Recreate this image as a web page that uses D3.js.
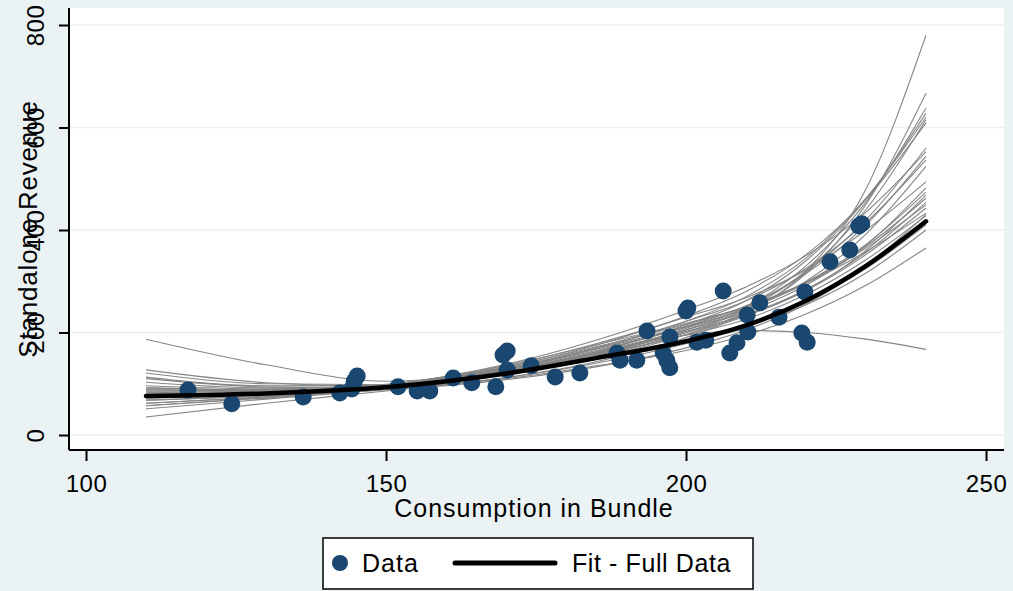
<!DOCTYPE html>
<html>
<head>
<meta charset="utf-8">
<script src="https://cdn.jsdelivr.net/npm/d3@7"></script>
<style>
    body { margin: 0; background: #eaf2f3; }
    text { font-family: "Liberation Sans Narrow", "Arial Narrow", "Liberation Sans", sans-serif; fill: #000; }
</style>
</head>
<body>
<div id="chart"></div>
<script>
// data
const dataX = [117.0, 124.3, 136.2, 142.3, 144.3, 144.7, 145.2, 152.0, 155.2, 157.3,
    161.2, 164.3, 168.3, 169.5, 170.2, 170.2, 174.2, 178.2, 182.3, 188.5,
    189.0, 191.8, 193.5, 196.2, 196.8, 197.3, 197.3, 200.3, 200.0, 201.8,
    203.3, 206.2, 207.3, 208.5, 210.3, 210.2, 212.3, 215.5, 219.3, 220.2,
    219.8, 224.0, 227.3, 229.3, 228.8];
const dataY = [88, 61, 74, 82, 90, 105, 115, 94, 86, 86,
    111, 102, 94, 156, 164, 127, 135, 113, 121, 160,
    146, 146, 203, 160, 146, 131, 191, 248, 242, 181,
    185, 281, 160, 180, 201, 234, 258, 230, 199, 181,
    279, 338, 361, 412, 408];

// x positions where the fitted curves were read
const fitX = [110, 130, 150, 170, 185, 200, 210, 220, 230, 240];
const fitFull = [76, 81, 93, 120, 150, 183, 214, 262, 330, 417];

// bootstrap fits (thin grey lines), one array per replication
const boot01 = [35, 62, 86, 112, 143, 190, 238, 320, 480, 780];
const boot02 = [51, 70, 90, 118, 150, 196, 240, 315, 450, 667];
const boot03 = [57, 72, 90, 120, 155, 205, 250, 330, 455, 638];
const boot04 = [57, 73, 92, 125, 162, 215, 262, 340, 460, 628];
const boot05 = [62, 75, 93, 128, 168, 222, 270, 345, 462, 620];
const boot06 = [62, 74, 90, 118, 152, 200, 245, 320, 440, 615];
const boot07 = [68, 78, 95, 132, 175, 232, 280, 352, 460, 609];
const boot08 = [68, 76, 92, 122, 158, 208, 250, 318, 420, 560];
const boot09 = [72, 80, 97, 138, 185, 244, 289, 350, 435, 553];
const boot10 = [72, 79, 94, 126, 163, 212, 252, 315, 410, 544];
const boot11 = [76, 81, 95, 130, 170, 222, 262, 325, 415, 537];
const boot12 = [76, 80, 93, 124, 160, 205, 244, 300, 392, 524];
const boot13 = [80, 84, 98, 135, 178, 230, 268, 322, 400, 494];
const boot14 = [80, 82, 95, 126, 162, 205, 240, 292, 370, 482];
const boot15 = [84, 85, 96, 128, 165, 210, 246, 298, 372, 474];
const boot16 = [84, 84, 94, 122, 155, 196, 232, 282, 360, 468];
const boot17 = [88, 86, 97, 130, 168, 212, 246, 296, 368, 462];
const boot18 = [88, 86, 95, 124, 158, 200, 234, 284, 356, 454];
const boot19 = [92, 88, 98, 133, 172, 216, 250, 298, 365, 449];
const boot20 = [92, 88, 96, 126, 160, 202, 235, 282, 352, 443];
const boot21 = [96, 90, 99, 136, 176, 218, 250, 296, 358, 433];
const boot22 = [103, 92, 97, 124, 156, 195, 226, 274, 342, 428];
const boot23 = [113, 96, 97, 118, 148, 185, 215, 260, 325, 410];
const boot24 = [121, 100, 98, 120, 150, 184, 212, 254, 316, 400];
const boot25 = [127, 102, 95, 110, 135, 165, 195, 236, 292, 365];
const boot26 = [187, 137, 105, 125, 158, 195, 204, 200, 187, 167];
const boot27 = [84, 80, 88, 108, 133, 170, 205, 255, 330, 430];
const boot28 = [110, 94, 92, 112, 140, 178, 210, 258, 326, 412];
const bootFits = [boot01, boot02, boot03, boot04, boot05, boot06, boot07, boot08, boot09, boot10,
    boot11, boot12, boot13, boot14, boot15, boot16, boot17, boot18, boot19, boot20,
    boot21, boot22, boot23, boot24, boot25, boot26, boot27, boot28];

const xTicks = [100, 150, 200, 250];
const yTicks = [0, 200, 400, 600, 800];

const width = 1013, height = 591;
const bg = "#eaf2f3";
const navy = "#1a476f";

const svg = d3.select("#chart")
    .append("svg")
    .attr("width", width)
    .attr("height", height);

svg.append("rect")
    .attr("width", width)
    .attr("height", height)
    .attr("fill", bg);

// plot region
const plot = { left: 69, right: 1004, top: 8, bottom: 450 };
svg.append("rect")
    .attr("x", plot.left)
    .attr("y", plot.top)
    .attr("width", plot.right - plot.left)
    .attr("height", plot.bottom - plot.top)
    .attr("fill", "#fff");

const x = d3.scaleLinear().domain([100, 250]).range([86, 986]);
const y = d3.scaleLinear().domain([0, 800]).range([435, 25]);

// gridlines
svg.append("g")
    .selectAll("line")
    .data(yTicks)
    .join("line")
    .attr("x1", plot.left)
    .attr("x2", plot.right)
    .attr("y1", d => y(d))
    .attr("y2", d => y(d))
    .attr("stroke", bg)
    .attr("stroke-width", 1.5);

// bootstrap lines
const line = d3.line()
    .x((d, i) => x(fitX[i]))
    .y(d => y(d))
    .curve(d3.curveMonotoneX);

svg.append("g")
    .selectAll("path")
    .data(bootFits)
    .join("path")
    .attr("d", line)
    .attr("fill", "none")
    .attr("stroke", "#858585")
    .attr("stroke-width", 1.1);

// data points
svg.append("g")
    .selectAll("circle")
    .data(dataX)
    .join("circle")
    .attr("cx", d => x(d))
    .attr("cy", (d, i) => y(dataY[i]))
    .attr("r", 8.5)
    .attr("fill", navy);

// full data fit
svg.append("path")
    .attr("d", line(fitFull))
    .attr("fill", "none")
    .attr("stroke", "#000")
    .attr("stroke-width", 4.5)
    .attr("stroke-linecap", "round");

// axes
const xAxis = svg.append("g")
    .attr("transform", `translate(0,${plot.bottom})`)
    .call(d3.axisBottom(x).tickValues(xTicks).tickSize(11).tickSizeOuter(0));
xAxis.select(".domain").attr("d", `M${plot.left},0H${plot.right}`).attr("stroke-width", 2);
xAxis.selectAll(".tick line").attr("stroke-width", 2);
xAxis.selectAll("text")
    .attr("font-size", 24)
    .attr("letter-spacing", 0.5)
    .attr("y", 42)
    .attr("dy", 0);

const yAxis = svg.append("g")
    .attr("transform", `translate(${plot.left},0)`)
    .call(d3.axisLeft(y).tickValues(yTicks).tickSize(10).tickSizeOuter(0));
yAxis.select(".domain").attr("d", `M0,${plot.top}V${plot.bottom}`).attr("stroke-width", 2);
yAxis.selectAll(".tick line").attr("stroke-width", 2);
yAxis.selectAll("text")
    .attr("font-size", 24)
    .attr("letter-spacing", 0.5)
    .attr("text-anchor", "middle")
    .attr("transform", "rotate(-90)")
    .attr("x", 0)
    .attr("y", -25)
    .attr("dy", 0);

// axis titles
svg.append("text")
    .attr("x", 534)
    .attr("y", 517)
    .attr("text-anchor", "middle")
    .attr("font-size", 25)
    .attr("letter-spacing", 1)
    .text("Consumption in Bundle");

svg.append("text")
    .attr("transform", `translate(37,${(plot.top + plot.bottom) / 2}) rotate(-90)`)
    .attr("text-anchor", "middle")
    .attr("font-size", 26)
    .attr("letter-spacing", 0.8)
    .text("Standalone Revenue");

// legend
const legend = svg.append("g");
legend.append("rect")
    .attr("x", 323)
    .attr("y", 538)
    .attr("width", 430)
    .attr("height", 51)
    .attr("fill", "#fff")
    .attr("stroke", "#000")
    .attr("stroke-width", 1.5);
legend.append("circle")
    .attr("cx", 340)
    .attr("cy", 563)
    .attr("r", 8)
    .attr("fill", navy);
legend.append("text")
    .attr("x", 362)
    .attr("y", 572)
    .attr("font-size", 25)
    .attr("letter-spacing", 1)
    .text("Data");
legend.append("line")
    .attr("x1", 455)
    .attr("x2", 555)
    .attr("y1", 563)
    .attr("y2", 563)
    .attr("stroke", "#000")
    .attr("stroke-width", 5)
    .attr("stroke-linecap", "round");
legend.append("text")
    .attr("x", 572)
    .attr("y", 572)
    .attr("font-size", 25)
    .attr("letter-spacing", 0.6)
    .text("Fit - Full Data");
</script>
</body>
</html>
